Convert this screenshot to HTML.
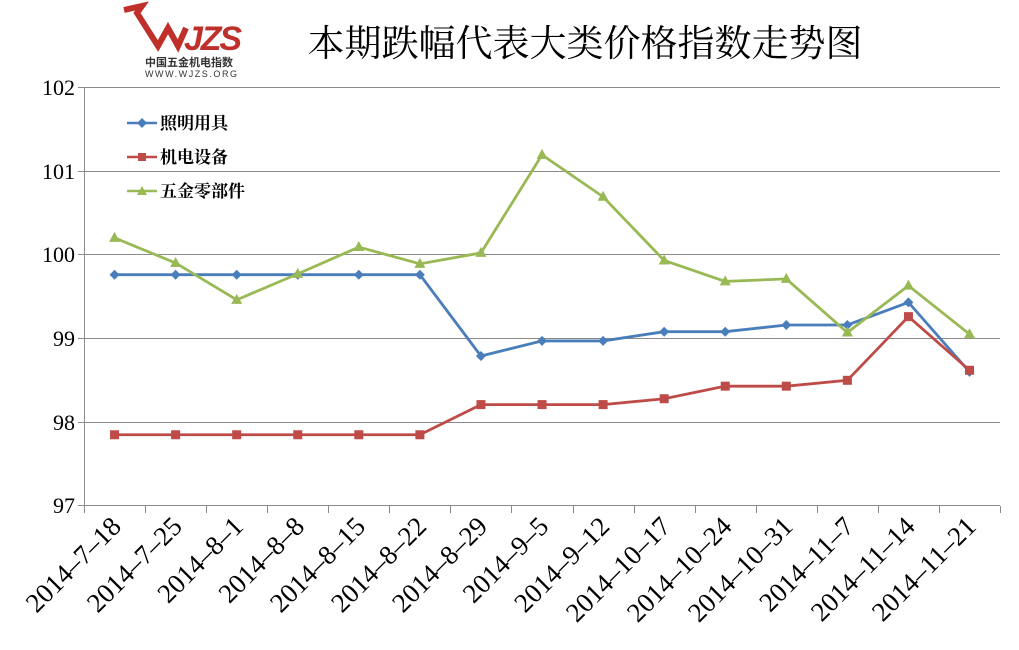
<!DOCTYPE html>
<html><head><meta charset="utf-8"><style>body{margin:0;background:#fff}svg{display:block}</style></head>
<body>
<svg width="1019" height="650" xmlns="http://www.w3.org/2000/svg" font-family="Liberation Serif, Noto Serif CJK SC, serif">
<rect width="1019" height="650" fill="#fff"/>
<!-- logo -->
<path d="M124 10 L142 6 L137 13 L158 46 L168 28 L178 46 L186 28" fill="none" stroke="#c0302a" stroke-width="6"/>
<text x="184" y="50" font-family="Liberation Sans, sans-serif" font-style="italic" font-weight="bold" font-size="34" fill="#c0302a" textLength="58">JZS</text>
<text x="145" y="66" font-family="Liberation Sans, Noto Sans CJK SC, sans-serif" font-size="11" font-weight="bold" fill="#333">中国五金机电指数</text>
<text x="145" y="77" font-family="Liberation Sans, sans-serif" font-size="9" fill="#333" textLength="92">WWW.WJZS.ORG</text>
<text x="585" y="56" text-anchor="middle" font-family="Noto Serif CJK SC, serif" font-size="37" fill="#000">本期跌幅代表大类价格指数走势图</text>
<!-- grid -->
<g stroke="#8a8a8a" stroke-width="1">
<line x1="84" y1="87.5" x2="1000" y2="87.5"/>
<line x1="84" y1="171.5" x2="1000" y2="171.5"/>
<line x1="84" y1="254.5" x2="1000" y2="254.5"/>
<line x1="84" y1="338.5" x2="1000" y2="338.5"/>
<line x1="84" y1="422.5" x2="1000" y2="422.5"/>
<line x1="78" y1="505.5" x2="1000" y2="505.5"/>
<line x1="84.5" y1="87" x2="84.5" y2="506"/>
<line x1="78" y1="87.5" x2="84" y2="87.5"/><line x1="78" y1="171.5" x2="84" y2="171.5"/><line x1="78" y1="254.5" x2="84" y2="254.5"/><line x1="78" y1="338.5" x2="84" y2="338.5"/><line x1="78" y1="422.5" x2="84" y2="422.5"/>
</g>
<g stroke="#8a8a8a" id="ticks"></g>
<g font-size="22" text-anchor="end" fill="#000">
<text x="75" y="95">102</text><text x="75" y="179">101</text><text x="75" y="262">100</text><text x="75" y="346">99</text><text x="75" y="430">98</text><text x="75" y="513">97</text>
</g>
<g id="xl" font-size="27" text-anchor="end"></g>
<g id="series"></g>
<!-- legend -->
<line x1="127" y1="123" x2="157" y2="123" stroke="#4a7ebb" stroke-width="2.5"/><path d="M142 118 L147 123 L142 128 L137 123Z" fill="#4a7ebb"/>
<line x1="127" y1="157" x2="157" y2="157" stroke="#be4b48" stroke-width="2.5"/><rect x="138" y="153" width="8" height="8" fill="#be4b48"/>
<line x1="127" y1="191" x2="157" y2="191" stroke="#98b954" stroke-width="2.5"/><path d="M142 186 L147 195 L137 195Z" fill="#98b954"/>
<g font-family="Noto Serif CJK SC, serif" font-size="17" font-weight="bold">
<text x="160" y="129">照明用具</text><text x="160" y="163">机电设备</text><text x="160" y="197">五金零部件</text>
</g>
</svg>
<script>
const ns="http://www.w3.org/2000/svg";
const labels=["2014-7-18","2014-7-25","2014-8-1","2014-8-8","2014-8-15","2014-8-22","2014-8-29","2014-9-5","2014-9-12","2014-10-17","2014-10-24","2014-10-31","2014-11-7","2014-11-14","2014-11-21"];
const step=61.07,x0=84;
const t=document.getElementById('ticks'),xl=document.getElementById('xl');
for(let i=0;i<=15;i++){const l=document.createElementNS(ns,'line');const x=Math.round(x0+i*step)+.5;l.setAttribute('x1',x);l.setAttribute('x2',x);l.setAttribute('y1',506);l.setAttribute('y2',513);t.appendChild(l);}
labels.forEach((s,i)=>{const x=x0+(i+.5)*step+8;const e=document.createElementNS(ns,'text');e.setAttribute('transform',`translate(${x},${528}) rotate(-45)`);e.textContent=s.replace(/-/g,'–');xl.appendChild(e);});
const Y=v=>506-(v-97)*83.8;
const data=[
["#4a7ebb","d",[99.76,99.76,99.76,99.76,99.76,99.76,98.79,98.97,98.97,99.08,99.08,99.16,99.16,99.43,98.6]],
["#be4b48","s",[97.85,97.85,97.85,97.85,97.85,97.85,98.21,98.21,98.21,98.28,98.43,98.43,98.5,99.26,98.62]],
["#98b954","t",[100.2,99.9,99.46,99.77,100.09,99.89,100.02,101.19,100.69,99.93,99.68,99.71,99.07,99.63,99.05]]];
const g=document.getElementById('series');
data.forEach(([c,m,v])=>{const pts=v.map((d,i)=>[x0+(i+.5)*step,Y(d)]);
const p=document.createElementNS(ns,'polyline');p.setAttribute('points',pts.map(a=>a.join(',')).join(' '));p.setAttribute('fill','none');p.setAttribute('stroke',c);p.setAttribute('stroke-width','2.8');g.appendChild(p);
pts.forEach(([x,y])=>{let e;if(m=='s'){e=document.createElementNS(ns,'rect');e.setAttribute('x',x-4.5);e.setAttribute('y',y-4.5);e.setAttribute('width',9);e.setAttribute('height',9);}else{e=document.createElementNS(ns,'path');e.setAttribute('d',m=='d'?`M${x} ${y-5}L${x+5} ${y}L${x} ${y+5}L${x-5} ${y}Z`:`M${x} ${y-6}L${x+5.5} ${y+4}L${x-5.5} ${y+4}Z`);}e.setAttribute('fill',c);g.appendChild(e);});});
</script>
</body></html>
